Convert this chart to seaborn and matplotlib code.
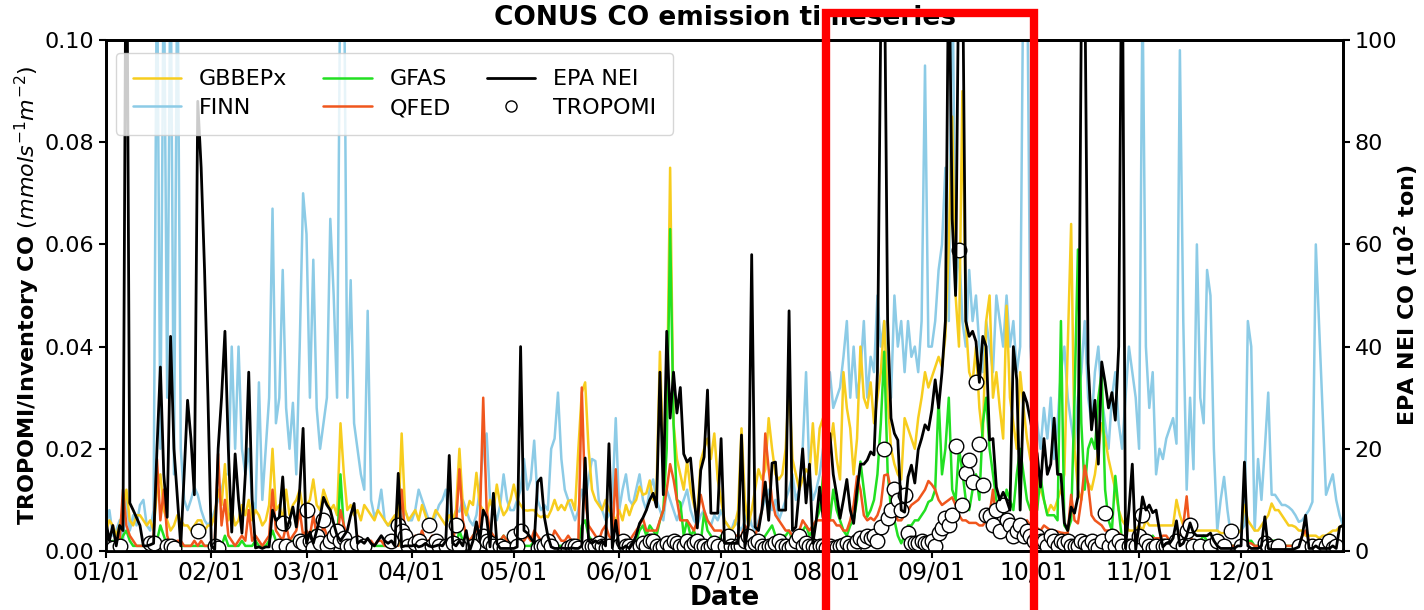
import numpy as np
import pandas as pd
import matplotlib
matplotlib.use("Agg")
import matplotlib.pyplot as plt
import matplotlib.dates as mdates
import matplotlib.transforms as mtransforms
from matplotlib.patches import Rectangle
from matplotlib.lines import Line2D
import seaborn as sns

# ---------------- data (daily, 2019) ----------------
dates = pd.date_range("2019-01-01", "2019-12-31", freq="D")
nan = np.nan

# values in 1e-3 mmol s-1 m-2 (left axis), one row per month
gbbepx_e3 = [
 4,6,5,3,5,8,12,6,5,7,7,6,5,6,4,12,15,8,6,4,5,7,6,5,5,4,5,6,6,4,5,
 5,7,12,9,17,6,8,5,6,9,7,10,6,8,7,5,6,9,20,8,9,6,12,7,9,10,12,8,
 9,10,14,9,8,12,10,8,9,7,25,15,8,9,7,8,6,9,8,7,6,8,7,6,5,6,7,5,23,8,6,
 7,8,6,9,7,5,6,8,7,6,5,7,6,8,20,9,7,9.8,9,15.3,9,8,7,10,8,13,9,7,8,10,
 13,10,9,8,7.9,8,8,7,6.6,7,6.6,8,10,8,9,8,9.8,10,8,20,31,33,20,12,10,9,8,10,8,7,6,
 8,6,9,7,9,10,12.6,11,11.3,13.8,10,12,39,18,25,75,25,18,15,12,17.6,12,9,7,17.6,20,22,18,23,14,
 10,6,5,4,5,8,24,10,5,8,12,16,14,16,26,20,15,14,15,20,33,18,15,12,14,16,15,25,15,24,26,
 16,20,25,18,14,35,28,24,15,22,40,30,28,33,25,30,35,45,30,20,17,15,14,26,24,22,20,26,30,35,32,
 34,36,38,36,42,60,85,50,40,90,45,35,33,40,28,22,45,50,30,35,28,22,48,30,25,20,35,28,22,18,
 16,14.6,12,10,7.3,9,8,10,12,15,40,64,20,12,10,14.7,13.3,12,15,20,25,22,18,15,12,8,6,5,4,4,4,
 5,4,6,5,5,5,5,5,5,5,5,10,7,5,4,4,4,4,4,4,4,4,4,4,3.5,3.5,3.5,3.5,3.5,3.5,
 4,9,6,5,4,4,5,6,7,9.3,8,8,7,6,5,5,4.7,4,4,3,3,3,3,2.5,3,3,3.5,4,4,4.7,5]

finn_e3 = [
 5,8,3,4,6,2,10,4,7,5,9,10,5,4,8,120,20,120,30,120,15,120,20,10,8,10,12.5,11,8,6,5,
 6,8,10,12,15,15,40,20,40,20,15,20,10,8,33,10,20,30,67,25,30,55,28,20,29,15,40,70,
 62,30,57,28,20,25,30,65,50,30,120,120,30,53,25,20,15,12,47,10,6.7,8,12,6,5,5,6,5,6,8,6,
 6,8,12,10,8,6,5,7,9,10,12,6,5,8,7.7,10,8,6,5,7,12,20,23,10,8,6,9,15,10,8,
 8,10,12,18,12,14,21.6,10,8,9,8,20,22,31,18,12,10,8,6,8,12,10,14,18,17.6,10,8,6,7,10,26,
 8,12,15,10,9,12,15,10,8,12,14,10,8,6,12,10,8,6,8,10,12,8,6,5,7,8,6,5,7,6,
 8,6,5,4,6,5,4,6,8,5,4,6,8,10,12,8,10,6,8,10,12,15,10,12,20,35,15,10,12,15,20,
 25,35,28,30,32,38,45,30,40,30,35,45,30,38,35,50,40,45,35,30,50,40,45,35,45,38,40,35,45,95,40,
 40,45,55,60,75,45,120,50,60,45,40,55,45,50,40,35,45,40,35,50,45,40,50,40,45,35,40,120,120,40,
 30,25,20,28,22,30,18,25,35,40,30,25,20,30,35,45,30,25,35,40,30,25,20,30,35,25,20,30,40,35,30,
 20,110,40,28,35,15,20,18,22,24,26,21,98,45,12,30,16,60,30,25,55,50,20,4,10,14.5,8,3,4,4,
 4,5,45,40,4,18,10,20,31,11,11,10,9,9,8.6,8,7,5.7,6,7,8,9.6,60,nan,nan,11,13,15,10,7,5]

gfas_e3 = [
 1,1,2,1,1,3,4,2,1,1,1,1,1,1,1,2,5,3,1,0.5,0.5,1,1,1,1,1,1,1,1,1,1,
 1,1,2,1,3,1,1,1,1,2,1,1,1,2,1,1,1,2,4,2,1,1,2,1,2,2,3,2,
 2,2,4,2,1,3,2,1,2,1,15,4,2,1,1,2,1,1,1,1,1,1,1,1,1,1,2,1,3,1,1,
 1,1,1,2,1,1,1,1,1,1,1,2,1,1,4,2,1,1,3,1,2,1,2,1,1,1,2,3,2,1,
 3,2,1,1,1,1,2,1,1,1,2,1,2,1,1,1,1,1,1,1,5,6,3,2,1,1,1,1,1,1,2,
 1,1,1,1,1,2,4,5,3,5,4,3,6,8,20,63,25,10,9.5,3,6,3,4,2,1.5,7.5,4,3,2,1.5,
 3,2,3,2,2,2,3,2,2,3,2,3,2,3,4,5,3,2,3,3,4,2,2,3,4,5,3,4,6,8,14.6,
 18,6,12,8,6,4,3,5,6,10,17.5,12,6.7,8,10,15,25,39,15.5,8,6,3,1.5,3,5,5,6,6,7,8,9.6,
 10,12,30,15,20,30,12,10,20,15.5,10,8,12,15,10,25,30,20,15,10,8,6,12,10,8,15,20,15,10,8,
 10,8,14.6,10,7,7,7,6,45,5,4,6,30,59,25,12,20,22,20,30,35,12,6,4,14.7,8,2,1.5,1.5,1.5,1.5,
 2,1,2,1,3,2,1,1,2,1,1,1,1,2,2,1,1,1,2,3,2,1,1,1,1,1,1,1,1,1,
 1,1,2,2,1,1,1,1,1,2,2,2,2,1,1,1,1,1,1,1,2,1,1,1,1,1,1,1,1,1,1]

qfed_e3 = [
 1,2,1,1,2,12,5,3,2,1,1,1,1,2,3,18,6,12,3,1,1,2,2,1,1,1,2,1,2,1,1,
 1,2,19,5,10,3,2,1,2,3,2,8,2,3,2,1,2,3,12,4,3,2,5,2,3,4,8,3,
 4,3,7,3,2,5,3,2,4,2,8,5,3,2,2,3,2,2,2,2,1,2,2,1,1,2,2,1,12,3,2,
 2,3,2,4,2,2,3,2,2,2,1,2,2,5,16,6,3,2,3,4,5,30,8,4,3,2,2,3,2,2,
 3,2,2,2,3,2,4,3,2,2,3,2,4,3,2,2,3,2,1,2,32,10,5,4,3,2,4,5,3,2,16,
 2,2,3,2,3,4,5,6.4,4,4,4,4,6,8,12,17,14,10,6,6,6,5,4,6,11,8,6,5,4,4,
 4,3,3,3,3,3,3,5,4,4,3,5,8,23,16,10,7,6,5,4,4,3,3,4,6,5,4,5,6,6,6,
 6,6,6,5,5,4,4,6,9,14.6,12,7,6,6.5,6,7,9,14.8,15,12,8,6,6,7,8,9,9.5,10,11,12,13.7,
 13,12,10,9,9.5,10,10.5,9,7,6,6,5.5,5.5,5.5,5,5,6,7,12,5,4,6,7,5,4,5,4,5,6,5,
 5,4.5,4,5,4.5,4,4,3.8,3.6,3.5,3.5,11,6,5.4,10,16.7,13,7,6,5.5,5,4,4,4,4,3.5,3,2,1.7,2,1.7,
 2,2,2,2,2.5,2.5,2.5,3,3,2,2,2,3,5,10.7,3,1.5,1,1,1,1,1,1,1,1,1,1,1,1,1,
 1,1,1.5,1.5,1,1,1,1,1,1,1,1,1,1,1,1,1,1,3,4,2,1,1,1,1,1,1,1,1,1,1]

tropomi_e3 = [
 1,nan,0.5,nan,1,nan,nan,nan,nan,nan,nan,nan,nan,1.5,1.5,nan,nan,nan,1,1,0.5,nan,nan,nan,nan,nan,nan,4,nan,nan,nan,
 nan,1,0.5,nan,nan,nan,nan,nan,nan,nan,nan,nan,nan,nan,nan,nan,nan,nan,nan,nan,1,5.5,1,nan,0.5,nan,2,1.5,
 8,2,0.5,3,1.5,6,1,2,3,4,2,2.5,1,1,nan,1.5,nan,1,nan,nan,nan,nan,nan,nan,nan,2,nan,5,4,3,1,
 nan,1.5,2,1,nan,5,1,2,1,nan,1,nan,1.5,5,1,nan,nan,nan,1,nan,nan,3,2,1.5,1,nan,1,0.5,nan,nan,
 3,1,4,nan,nan,nan,nan,0.5,1,1,2,1,nan,nan,nan,nan,0.5,1,1,0.5,nan,nan,1,1,1,1.5,1,0.5,1,nan,nan,
 1,2,1,1,0.5,0.5,1,1.5,1,2,2,1,0.5,1,1.5,1,2,1.5,1,1,2,1,1.5,2,1,1,0.5,1,1.5,1,
 nan,1,3,1,0.5,1,1,2,3,1,1.5,2,1,0.5,1,1,1.5,2,1,1,0.5,1,2,3,1,1.5,1,1,0.5,1,1,
 0.5,1,0.5,0.8,1,1.2,1.5,1,1,2,2.5,2,3,2.5,3,2,4.7,20,6.5,8,12.2,10,8,11,3.6,1.5,1.5,1.5,2,1.5,1.5,
 2,1,3.5,4.5,6.5,5,7,20.5,59,9,15.3,17.8,13.5,33,21,13,7,6.9,5,8,4,9,6,5,3,4,5,3,4,3,
 2,3,2,2,1,3,2,1,2,1.5,2,1,1,1,2,1.5,1,2,1,0.5,2,7.5,1,3,1,2,1,nan,1,1,1,
 3,7,2,1,0.5,1,nan,1,1,0.5,nan,2,nan,1,4,5,1,nan,1,nan,nan,1,nan,2,nan,1,nan,4,nan,nan,
 1,nan,nan,nan,nan,nan,nan,1.5,1,0.5,nan,1,nan,nan,nan,nan,nan,1,nan,nan,nan,1,nan,1,nan,1,2,0.5,1,nan,nan]

# EPA NEI CO in 10^2 ton (right axis)
epa_nei = [
 5.7,2,5,1,5,4,140,9.4,8,6.5,5,1,1,1.2,1.5,20,36,15,6.6,42,20,10.6,1,15,29.5,22,11,88,75,55,30,
 1,0.3,20,30,43,20,3.7,19,10,3.5,15,35,10,0.6,0.8,0.5,0.8,0.8,8,6,6.6,14.5,4,6,8.6,4.7,12,24,
 1.5,3.7,1.5,4,6.6,10.5,9,8,5.4,3,2,3,4,7,9.3,1.5,2,1.5,2.5,1.5,1,2,3,2,1.5,2,1,15.2,0.8,1,1,
 1,1.2,0.8,1,1.5,1,0.8,1,1.2,1,2,18.7,1.5,1,2,1,4,0,2,5.7,2,8,6.6,0.8,11.3,1.5,0.5,0.5,0.5,0.5,
 0.5,0.8,40,4,3.5,2.5,1.5,13.5,14.3,6.6,3,0.8,0.5,0.5,0.6,0.5,0.5,0.6,0.5,0.5,1,18.2,2,1.5,2,1.5,2,1,21,0.6,6,
 0.6,0.5,1,0.5,1.5,3,5.4,6.5,8,10,11.3,8.6,35,11,43,26,35,27,32,19,17.4,18.2,10.6,4.5,15.8,18.4,31.5,7.4,7.4,7.4,
 22,1.5,1.5,1.5,1.5,1.5,22.7,0.8,5,58,4.7,4,8,13.5,6,17.2,17.4,8,8,8,47,4,4.7,12,20,9.4,17,1.5,6,12.5,6.6,
 15,23,15,11,6.4,10,14,8,5.4,12,17,17,17.8,19.4,18.8,35,105,120,45,26,23,21.7,8,7.6,14.5,16.8,13.3,19.8,22,24.7,23.7,
 27.6,33.5,28,35,45,120,65,50,120,120,45,42,43,41,33,42,40,21.7,22,12.5,10,11.5,10,8,40,33.5,8,31,29,25.6,
 22,19,12.5,22,15,17,26,15,15,5.5,4,8.6,7.4,10.6,105,115,36.8,23.7,29.5,17,37,33,28,31,25.6,40,130,0.5,8,17,0.3,
 5,10.6,8,9,7.5,8,4,0.8,1.5,1.5,2.5,5.9,1,1.5,3,5.5,3.5,3,3,3,3,3.5,2,1,0.5,0.5,0.5,0.5,0.5,1,
 1,17.4,1,0.5,0.5,0.5,1,6.7,0.5,0.3,0.3,0.3,0.3,0.3,0.3,0.3,0.5,0.8,3,7,0.5,0.5,1,0.5,0.5,0.5,0.5,1,0.5,4.7,5]

gbbepx = np.array(gbbepx_e3, dtype=float) * 1e-3
finn = np.array(finn_e3, dtype=float) * 1e-3
gfas = np.array(gfas_e3, dtype=float) * 1e-3
qfed = np.array(qfed_e3, dtype=float) * 1e-3
tropomi = np.array(tropomi_e3, dtype=float) * 1e-3
epa = np.array(epa_nei, dtype=float)

month_ticks = pd.date_range("2019-01-01", "2019-12-01", freq="MS")

# ---------------- style ----------------
sns.set_theme(style="ticks")
plt.rcParams["font.family"] = ["DejaVu Sans"]
plt.rcParams.update({
    "axes.linewidth": 2.0, "mathtext.default": "it",
    "text.color": "black", "axes.labelcolor": "black",
    "xtick.color": "black", "ytick.color": "black", "axes.edgecolor": "black",
})

fig = plt.figure(figsize=(14.24, 6.10), dpi=100)
ax = fig.add_axes([106/1424, 1-551/610, (1343-106)/1424, (551-40)/610])
ax2 = ax.twinx()

c_gb, c_fi, c_gf, c_qf = "#f7cd1e", "#8ccbe6", "#22e022", "#f0561d"
lw = 1.8
sns.lineplot(x=dates, y=finn, ax=ax, color=c_fi, lw=lw, legend=False)
sns.lineplot(x=dates, y=gbbepx, ax=ax, color=c_gb, lw=lw, legend=False)
sns.lineplot(x=dates, y=gfas, ax=ax, color=c_gf, lw=lw, legend=False)
sns.lineplot(x=dates, y=qfed, ax=ax, color=c_qf, lw=lw, legend=False)
sns.scatterplot(x=dates, y=tropomi, ax=ax, s=110, facecolor="white",
                edgecolor="black", linewidth=1.0, zorder=5, legend=False)
sns.lineplot(x=dates, y=epa, ax=ax2, color="black", lw=2.0, legend=False)

ax.set_xlim(dates[0], dates[-1])
ax.set_ylim(0, 0.1)
ax2.set_ylim(0, 100)
ax.set_yticks([0, 0.02, 0.04, 0.06, 0.08, 0.10])
ax.set_yticklabels(["0.00", "0.02", "0.04", "0.06", "0.08", "0.10"])
ax2.set_yticks([0, 20, 40, 60, 80, 100])
ax.set_xticks(month_ticks)
ax.xaxis.set_major_formatter(mdates.DateFormatter("%m/%d"))

for a in (ax, ax2):
    a.tick_params(axis="both", labelsize=16, length=5, width=1.5, colors="black")
ax.tick_params(axis="x", labelsize=17, pad=2)

ax.set_xlabel("Date", fontsize=19, fontweight="bold", labelpad=0)
ax.set_ylabel(r"TROPOMI/Inventory CO $(mmols^{-1}m^{-2})$", fontsize=16,
              fontweight="bold", labelpad=2)
ax2.set_ylabel(r"EPA NEI CO ($\mathregular{10^2}$ ton)", fontsize=16,
               fontweight="bold", labelpad=-3)
ax.set_title("CONUS CO emission timeseries", fontsize=19, fontweight="bold", pad=11)

handles = [
    Line2D([], [], color=c_gb, lw=lw), Line2D([], [], color=c_fi, lw=lw),
    Line2D([], [], color=c_gf, lw=lw), Line2D([], [], color=c_qf, lw=lw),
    Line2D([], [], color="black", lw=2.0),
    Line2D([], [], ls="none", marker="o", markersize=8, markerfacecolor="white",
           markeredgecolor="black", markeredgewidth=1.0),
]
labels = ["GBBEPx", "FINN", "GFAS", "QFED", "EPA NEI", "TROPOMI"]
leg = ax2.legend(handles, labels, ncol=3, loc="upper left",
                 bbox_to_anchor=(-0.001, 0.997), fontsize=16, framealpha=0.8,
                 columnspacing=1.6, handlelength=2.2, borderpad=0.75,
                 labelspacing=0.4)

# highlight box (Aug 1 - Oct 1)
trans = mtransforms.blended_transform_factory(ax.transData, fig.transFigure)
x0 = mdates.date2num(pd.Timestamp("2019-08-01"))
x1 = mdates.date2num(pd.Timestamp("2019-10-01"))
rect = Rectangle((x0, -0.05), x1 - x0, 1.05 - 13/610, transform=trans,
                 fill=False, edgecolor="red", lw=6, clip_on=False, zorder=20)
fig.add_artist(rect)

fig.savefig("out.png", dpi=100)
